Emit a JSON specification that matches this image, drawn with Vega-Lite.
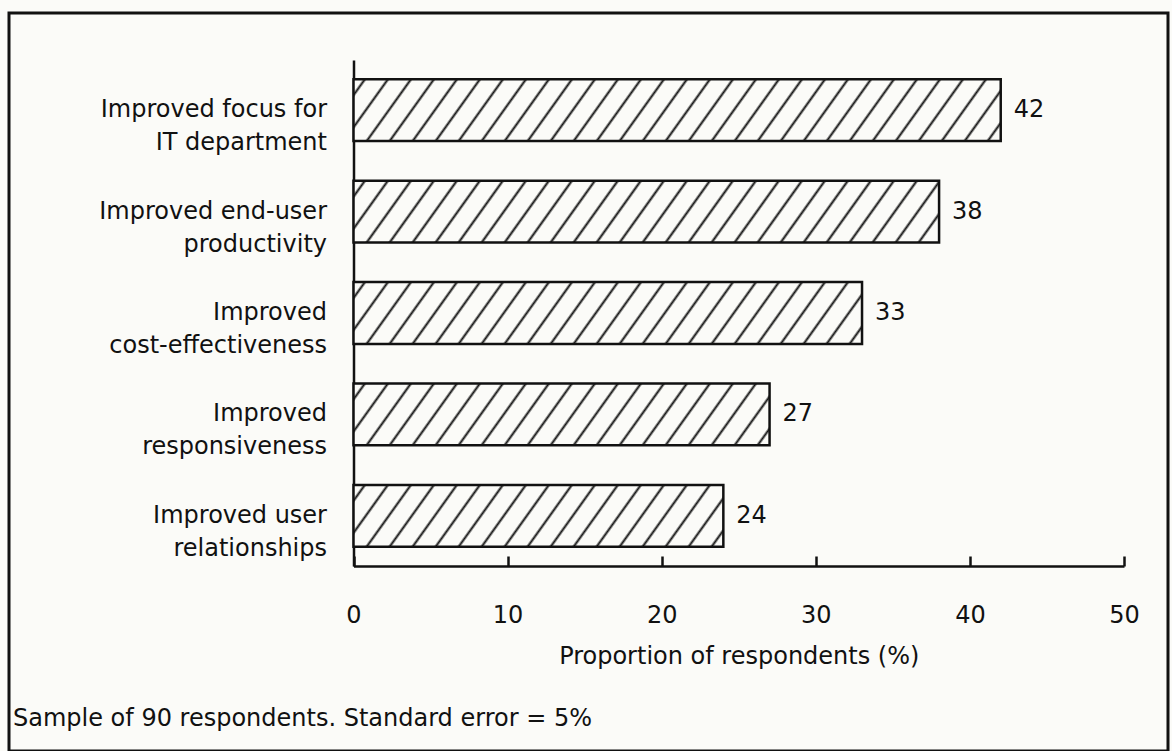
{
  "$schema": "https://vega.github.io/schema/vega-lite/v6.json",
  "autosize": {"type": "none"},
  "width": 1159,
  "height": 738,
  "padding": {"left": 9, "top": 13, "right": 4, "bottom": 0},
  "background": "#fbfbf8",
  "config": {
    "view": {"stroke": "#111", "strokeWidth": 3, "fill": null},
    "font": "DejaVu Sans"
  },
  "title": {
    "text": "Sample of 90 respondents. Standard error = 5%",
    "orient": "bottom",
    "anchor": "start",
    "frame": "group",
    "offset": -25,
    "dx": 4,
    "fontSize": 24,
    "font": "DejaVu Sans",
    "fontWeight": "normal",
    "color": "#111",
    "baseline": "alphabetic"
  },
  "data": {
    "values": [
      {"item": "Improved focus for|IT department", "pct": 42},
      {"item": "Improved end-user|productivity", "pct": 38},
      {"item": "Improved|cost-effectiveness", "pct": 33},
      {"item": "Improved|responsiveness", "pct": 27},
      {"item": "Improved user|relationships", "pct": 24}
    ]
  },
  "encoding": {
    "y": {
      "field": "item",
      "type": "nominal",
      "sort": null,
      "scale": {"range": [47, 553], "paddingInner": 0.39, "paddingOuter": 0.19},
      "axis": {
        "orient": "left",
        "offset": -344.5,
        "title": null,
        "grid": false,
        "ticks": false,
        "domain": true,
        "domainColor": "#111",
        "domainWidth": 2.5,
        "labelPadding": 27,
        "labelFont": "DejaVu Sans",
        "labelFontSize": 24,
        "labelColor": "#111",
        "labelLimit": 500,
        "labelLineHeight": 33,
        "labelExpr": "split(datum.label, '|')"
      }
    },
    "x": {
      "field": "pct",
      "type": "quantitative",
      "scale": {"domain": [0, 50], "range": [344.5, 1115], "nice": false},
      "axis": {
        "orient": "bottom",
        "offset": -185,
        "values": [0, 10, 20, 30, 40, 50],
        "grid": false,
        "domainColor": "#111",
        "domainWidth": 2.5,
        "tickColor": "#111",
        "tickWidth": 2.5,
        "tickSize": -10,
        "labelFont": "DejaVu Sans",
        "labelFontSize": 24,
        "labelColor": "#111",
        "labelBaseline": "alphabetic",
        "labelPadding": 66,
        "labelFlush": false,
        "title": "Proportion of respondents (%)",
        "titleFont": "DejaVu Sans",
        "titleFontSize": 24,
        "titleFontWeight": "normal",
        "titleColor": "#111",
        "titleBaseline": "alphabetic",
        "titleY": 97
      }
    }
  },
  "layer": [
    {
      "mark": {"type": "bar", "stroke": "#111", "strokeWidth": 2.5},
      "encoding": {
        "fill": {
          "condition": [
            {"test": "datum.pct === 42", "value": {"gradient": "linear", "x1": 0, "y1": 0, "x2": 1.0635, "y2": 0.0728, "stops": [
              {"offset": 0.0129, "color": "#fbfbf8"}, {"offset": 0.0165, "color": "#111"}, {"offset": 0.0201, "color": "#fbfbf8"},
              {"offset": 0.0462, "color": "#fbfbf8"}, {"offset": 0.0498, "color": "#111"}, {"offset": 0.0534, "color": "#fbfbf8"},
              {"offset": 0.0795, "color": "#fbfbf8"}, {"offset": 0.0831, "color": "#111"}, {"offset": 0.0867, "color": "#fbfbf8"},
              {"offset": 0.1127, "color": "#fbfbf8"}, {"offset": 0.1163, "color": "#111"}, {"offset": 0.1199, "color": "#fbfbf8"},
              {"offset": 0.1460, "color": "#fbfbf8"}, {"offset": 0.1496, "color": "#111"}, {"offset": 0.1532, "color": "#fbfbf8"},
              {"offset": 0.1792, "color": "#fbfbf8"}, {"offset": 0.1828, "color": "#111"}, {"offset": 0.1864, "color": "#fbfbf8"},
              {"offset": 0.2125, "color": "#fbfbf8"}, {"offset": 0.2161, "color": "#111"}, {"offset": 0.2197, "color": "#fbfbf8"},
              {"offset": 0.2458, "color": "#fbfbf8"}, {"offset": 0.2494, "color": "#111"}, {"offset": 0.2530, "color": "#fbfbf8"},
              {"offset": 0.2790, "color": "#fbfbf8"}, {"offset": 0.2826, "color": "#111"}, {"offset": 0.2862, "color": "#fbfbf8"},
              {"offset": 0.3123, "color": "#fbfbf8"}, {"offset": 0.3159, "color": "#111"}, {"offset": 0.3195, "color": "#fbfbf8"},
              {"offset": 0.3455, "color": "#fbfbf8"}, {"offset": 0.3491, "color": "#111"}, {"offset": 0.3527, "color": "#fbfbf8"},
              {"offset": 0.3788, "color": "#fbfbf8"}, {"offset": 0.3824, "color": "#111"}, {"offset": 0.3860, "color": "#fbfbf8"},
              {"offset": 0.4121, "color": "#fbfbf8"}, {"offset": 0.4157, "color": "#111"}, {"offset": 0.4193, "color": "#fbfbf8"},
              {"offset": 0.4453, "color": "#fbfbf8"}, {"offset": 0.4489, "color": "#111"}, {"offset": 0.4525, "color": "#fbfbf8"},
              {"offset": 0.4786, "color": "#fbfbf8"}, {"offset": 0.4822, "color": "#111"}, {"offset": 0.4858, "color": "#fbfbf8"},
              {"offset": 0.5118, "color": "#fbfbf8"}, {"offset": 0.5154, "color": "#111"}, {"offset": 0.5190, "color": "#fbfbf8"},
              {"offset": 0.5451, "color": "#fbfbf8"}, {"offset": 0.5487, "color": "#111"}, {"offset": 0.5523, "color": "#fbfbf8"},
              {"offset": 0.5784, "color": "#fbfbf8"}, {"offset": 0.5820, "color": "#111"}, {"offset": 0.5856, "color": "#fbfbf8"},
              {"offset": 0.6116, "color": "#fbfbf8"}, {"offset": 0.6152, "color": "#111"}, {"offset": 0.6188, "color": "#fbfbf8"},
              {"offset": 0.6449, "color": "#fbfbf8"}, {"offset": 0.6485, "color": "#111"}, {"offset": 0.6521, "color": "#fbfbf8"},
              {"offset": 0.6782, "color": "#fbfbf8"}, {"offset": 0.6818, "color": "#111"}, {"offset": 0.6854, "color": "#fbfbf8"},
              {"offset": 0.7114, "color": "#fbfbf8"}, {"offset": 0.7150, "color": "#111"}, {"offset": 0.7186, "color": "#fbfbf8"},
              {"offset": 0.7447, "color": "#fbfbf8"}, {"offset": 0.7483, "color": "#111"}, {"offset": 0.7519, "color": "#fbfbf8"},
              {"offset": 0.7779, "color": "#fbfbf8"}, {"offset": 0.7815, "color": "#111"}, {"offset": 0.7851, "color": "#fbfbf8"},
              {"offset": 0.8112, "color": "#fbfbf8"}, {"offset": 0.8148, "color": "#111"}, {"offset": 0.8184, "color": "#fbfbf8"},
              {"offset": 0.8445, "color": "#fbfbf8"}, {"offset": 0.8481, "color": "#111"}, {"offset": 0.8517, "color": "#fbfbf8"},
              {"offset": 0.8777, "color": "#fbfbf8"}, {"offset": 0.8813, "color": "#111"}, {"offset": 0.8849, "color": "#fbfbf8"},
              {"offset": 0.9110, "color": "#fbfbf8"}, {"offset": 0.9146, "color": "#111"}, {"offset": 0.9182, "color": "#fbfbf8"},
              {"offset": 0.9442, "color": "#fbfbf8"}, {"offset": 0.9478, "color": "#111"}, {"offset": 0.9514, "color": "#fbfbf8"},
              {"offset": 0.9775, "color": "#fbfbf8"}, {"offset": 0.9811, "color": "#111"}, {"offset": 0.9847, "color": "#fbfbf8"}
            ]}},
            {"test": "datum.pct === 38", "value": {"gradient": "linear", "x1": 0, "y1": 0, "x2": 1.0695, "y2": 0.0809, "stops": [
              {"offset": 0.0142, "color": "#fbfbf8"}, {"offset": 0.0182, "color": "#111"}, {"offset": 0.0222, "color": "#fbfbf8"},
              {"offset": 0.0507, "color": "#fbfbf8"}, {"offset": 0.0547, "color": "#111"}, {"offset": 0.0587, "color": "#fbfbf8"},
              {"offset": 0.0872, "color": "#fbfbf8"}, {"offset": 0.0912, "color": "#111"}, {"offset": 0.0952, "color": "#fbfbf8"},
              {"offset": 0.1237, "color": "#fbfbf8"}, {"offset": 0.1277, "color": "#111"}, {"offset": 0.1317, "color": "#fbfbf8"},
              {"offset": 0.1602, "color": "#fbfbf8"}, {"offset": 0.1642, "color": "#111"}, {"offset": 0.1682, "color": "#fbfbf8"},
              {"offset": 0.1967, "color": "#fbfbf8"}, {"offset": 0.2007, "color": "#111"}, {"offset": 0.2047, "color": "#fbfbf8"},
              {"offset": 0.2332, "color": "#fbfbf8"}, {"offset": 0.2372, "color": "#111"}, {"offset": 0.2412, "color": "#fbfbf8"},
              {"offset": 0.2698, "color": "#fbfbf8"}, {"offset": 0.2738, "color": "#111"}, {"offset": 0.2778, "color": "#fbfbf8"},
              {"offset": 0.3063, "color": "#fbfbf8"}, {"offset": 0.3103, "color": "#111"}, {"offset": 0.3143, "color": "#fbfbf8"},
              {"offset": 0.3428, "color": "#fbfbf8"}, {"offset": 0.3468, "color": "#111"}, {"offset": 0.3508, "color": "#fbfbf8"},
              {"offset": 0.3793, "color": "#fbfbf8"}, {"offset": 0.3833, "color": "#111"}, {"offset": 0.3873, "color": "#fbfbf8"},
              {"offset": 0.4158, "color": "#fbfbf8"}, {"offset": 0.4198, "color": "#111"}, {"offset": 0.4238, "color": "#fbfbf8"},
              {"offset": 0.4523, "color": "#fbfbf8"}, {"offset": 0.4563, "color": "#111"}, {"offset": 0.4603, "color": "#fbfbf8"},
              {"offset": 0.4889, "color": "#fbfbf8"}, {"offset": 0.4929, "color": "#111"}, {"offset": 0.4969, "color": "#fbfbf8"},
              {"offset": 0.5254, "color": "#fbfbf8"}, {"offset": 0.5294, "color": "#111"}, {"offset": 0.5334, "color": "#fbfbf8"},
              {"offset": 0.5619, "color": "#fbfbf8"}, {"offset": 0.5659, "color": "#111"}, {"offset": 0.5699, "color": "#fbfbf8"},
              {"offset": 0.5984, "color": "#fbfbf8"}, {"offset": 0.6024, "color": "#111"}, {"offset": 0.6064, "color": "#fbfbf8"},
              {"offset": 0.6349, "color": "#fbfbf8"}, {"offset": 0.6389, "color": "#111"}, {"offset": 0.6429, "color": "#fbfbf8"},
              {"offset": 0.6714, "color": "#fbfbf8"}, {"offset": 0.6754, "color": "#111"}, {"offset": 0.6794, "color": "#fbfbf8"},
              {"offset": 0.7080, "color": "#fbfbf8"}, {"offset": 0.7120, "color": "#111"}, {"offset": 0.7160, "color": "#fbfbf8"},
              {"offset": 0.7445, "color": "#fbfbf8"}, {"offset": 0.7485, "color": "#111"}, {"offset": 0.7525, "color": "#fbfbf8"},
              {"offset": 0.7810, "color": "#fbfbf8"}, {"offset": 0.7850, "color": "#111"}, {"offset": 0.7890, "color": "#fbfbf8"},
              {"offset": 0.8175, "color": "#fbfbf8"}, {"offset": 0.8215, "color": "#111"}, {"offset": 0.8255, "color": "#fbfbf8"},
              {"offset": 0.8540, "color": "#fbfbf8"}, {"offset": 0.8580, "color": "#111"}, {"offset": 0.8620, "color": "#fbfbf8"},
              {"offset": 0.8905, "color": "#fbfbf8"}, {"offset": 0.8945, "color": "#111"}, {"offset": 0.8985, "color": "#fbfbf8"},
              {"offset": 0.9271, "color": "#fbfbf8"}, {"offset": 0.9311, "color": "#111"}, {"offset": 0.9351, "color": "#fbfbf8"},
              {"offset": 0.9636, "color": "#fbfbf8"}, {"offset": 0.9676, "color": "#111"}, {"offset": 0.9716, "color": "#fbfbf8"}
            ]}},
            {"test": "datum.pct === 33", "value": {"gradient": "linear", "x1": 0, "y1": 0, "x2": 1.0789, "y2": 0.0940, "stops": [
              {"offset": 0.0162, "color": "#fbfbf8"}, {"offset": 0.0207, "color": "#111"}, {"offset": 0.0252, "color": "#fbfbf8"},
              {"offset": 0.0578, "color": "#fbfbf8"}, {"offset": 0.0623, "color": "#111"}, {"offset": 0.0668, "color": "#fbfbf8"},
              {"offset": 0.0994, "color": "#fbfbf8"}, {"offset": 0.1039, "color": "#111"}, {"offset": 0.1084, "color": "#fbfbf8"},
              {"offset": 0.1410, "color": "#fbfbf8"}, {"offset": 0.1455, "color": "#111"}, {"offset": 0.1500, "color": "#fbfbf8"},
              {"offset": 0.1826, "color": "#fbfbf8"}, {"offset": 0.1871, "color": "#111"}, {"offset": 0.1916, "color": "#fbfbf8"},
              {"offset": 0.2242, "color": "#fbfbf8"}, {"offset": 0.2287, "color": "#111"}, {"offset": 0.2332, "color": "#fbfbf8"},
              {"offset": 0.2658, "color": "#fbfbf8"}, {"offset": 0.2703, "color": "#111"}, {"offset": 0.2748, "color": "#fbfbf8"},
              {"offset": 0.3074, "color": "#fbfbf8"}, {"offset": 0.3119, "color": "#111"}, {"offset": 0.3164, "color": "#fbfbf8"},
              {"offset": 0.3490, "color": "#fbfbf8"}, {"offset": 0.3535, "color": "#111"}, {"offset": 0.3580, "color": "#fbfbf8"},
              {"offset": 0.3906, "color": "#fbfbf8"}, {"offset": 0.3951, "color": "#111"}, {"offset": 0.3996, "color": "#fbfbf8"},
              {"offset": 0.4323, "color": "#fbfbf8"}, {"offset": 0.4368, "color": "#111"}, {"offset": 0.4413, "color": "#fbfbf8"},
              {"offset": 0.4739, "color": "#fbfbf8"}, {"offset": 0.4784, "color": "#111"}, {"offset": 0.4829, "color": "#fbfbf8"},
              {"offset": 0.5155, "color": "#fbfbf8"}, {"offset": 0.5200, "color": "#111"}, {"offset": 0.5245, "color": "#fbfbf8"},
              {"offset": 0.5571, "color": "#fbfbf8"}, {"offset": 0.5616, "color": "#111"}, {"offset": 0.5661, "color": "#fbfbf8"},
              {"offset": 0.5987, "color": "#fbfbf8"}, {"offset": 0.6032, "color": "#111"}, {"offset": 0.6077, "color": "#fbfbf8"},
              {"offset": 0.6403, "color": "#fbfbf8"}, {"offset": 0.6448, "color": "#111"}, {"offset": 0.6493, "color": "#fbfbf8"},
              {"offset": 0.6819, "color": "#fbfbf8"}, {"offset": 0.6864, "color": "#111"}, {"offset": 0.6909, "color": "#fbfbf8"},
              {"offset": 0.7235, "color": "#fbfbf8"}, {"offset": 0.7280, "color": "#111"}, {"offset": 0.7325, "color": "#fbfbf8"},
              {"offset": 0.7651, "color": "#fbfbf8"}, {"offset": 0.7696, "color": "#111"}, {"offset": 0.7741, "color": "#fbfbf8"},
              {"offset": 0.8067, "color": "#fbfbf8"}, {"offset": 0.8112, "color": "#111"}, {"offset": 0.8157, "color": "#fbfbf8"},
              {"offset": 0.8483, "color": "#fbfbf8"}, {"offset": 0.8528, "color": "#111"}, {"offset": 0.8573, "color": "#fbfbf8"},
              {"offset": 0.8899, "color": "#fbfbf8"}, {"offset": 0.8944, "color": "#111"}, {"offset": 0.8989, "color": "#fbfbf8"},
              {"offset": 0.9315, "color": "#fbfbf8"}, {"offset": 0.9360, "color": "#111"}, {"offset": 0.9405, "color": "#fbfbf8"},
              {"offset": 0.9731, "color": "#fbfbf8"}, {"offset": 0.9776, "color": "#111"}, {"offset": 0.9821, "color": "#fbfbf8"}
            ]}},
            {"test": "datum.pct === 27", "value": {"gradient": "linear", "x1": 0, "y1": 0, "x2": 1.0940, "y2": 0.1165, "stops": [
              {"offset": 0.0194, "color": "#fbfbf8"}, {"offset": 0.0248, "color": "#111"}, {"offset": 0.0302, "color": "#fbfbf8"},
              {"offset": 0.0694, "color": "#fbfbf8"}, {"offset": 0.0748, "color": "#111"}, {"offset": 0.0802, "color": "#fbfbf8"},
              {"offset": 0.1193, "color": "#fbfbf8"}, {"offset": 0.1247, "color": "#111"}, {"offset": 0.1301, "color": "#fbfbf8"},
              {"offset": 0.1693, "color": "#fbfbf8"}, {"offset": 0.1747, "color": "#111"}, {"offset": 0.1801, "color": "#fbfbf8"},
              {"offset": 0.2193, "color": "#fbfbf8"}, {"offset": 0.2247, "color": "#111"}, {"offset": 0.2301, "color": "#fbfbf8"},
              {"offset": 0.2692, "color": "#fbfbf8"}, {"offset": 0.2746, "color": "#111"}, {"offset": 0.2800, "color": "#fbfbf8"},
              {"offset": 0.3192, "color": "#fbfbf8"}, {"offset": 0.3246, "color": "#111"}, {"offset": 0.3300, "color": "#fbfbf8"},
              {"offset": 0.3691, "color": "#fbfbf8"}, {"offset": 0.3745, "color": "#111"}, {"offset": 0.3799, "color": "#fbfbf8"},
              {"offset": 0.4191, "color": "#fbfbf8"}, {"offset": 0.4245, "color": "#111"}, {"offset": 0.4299, "color": "#fbfbf8"},
              {"offset": 0.4691, "color": "#fbfbf8"}, {"offset": 0.4745, "color": "#111"}, {"offset": 0.4799, "color": "#fbfbf8"},
              {"offset": 0.5190, "color": "#fbfbf8"}, {"offset": 0.5244, "color": "#111"}, {"offset": 0.5298, "color": "#fbfbf8"},
              {"offset": 0.5690, "color": "#fbfbf8"}, {"offset": 0.5744, "color": "#111"}, {"offset": 0.5798, "color": "#fbfbf8"},
              {"offset": 0.6190, "color": "#fbfbf8"}, {"offset": 0.6244, "color": "#111"}, {"offset": 0.6298, "color": "#fbfbf8"},
              {"offset": 0.6689, "color": "#fbfbf8"}, {"offset": 0.6743, "color": "#111"}, {"offset": 0.6797, "color": "#fbfbf8"},
              {"offset": 0.7189, "color": "#fbfbf8"}, {"offset": 0.7243, "color": "#111"}, {"offset": 0.7297, "color": "#fbfbf8"},
              {"offset": 0.7688, "color": "#fbfbf8"}, {"offset": 0.7742, "color": "#111"}, {"offset": 0.7796, "color": "#fbfbf8"},
              {"offset": 0.8188, "color": "#fbfbf8"}, {"offset": 0.8242, "color": "#111"}, {"offset": 0.8296, "color": "#fbfbf8"},
              {"offset": 0.8688, "color": "#fbfbf8"}, {"offset": 0.8742, "color": "#111"}, {"offset": 0.8796, "color": "#fbfbf8"},
              {"offset": 0.9187, "color": "#fbfbf8"}, {"offset": 0.9241, "color": "#111"}, {"offset": 0.9295, "color": "#fbfbf8"},
              {"offset": 0.9687, "color": "#fbfbf8"}, {"offset": 0.9741, "color": "#111"}, {"offset": 0.9795, "color": "#fbfbf8"}
            ]}},
            {"test": "datum.pct === 24", "value": {"gradient": "linear", "x1": 0, "y1": 0, "x2": 1.1039, "y2": 0.1322, "stops": [
              {"offset": 0.0216, "color": "#fbfbf8"}, {"offset": 0.0276, "color": "#111"}, {"offset": 0.0336, "color": "#fbfbf8"},
              {"offset": 0.0771, "color": "#fbfbf8"}, {"offset": 0.0831, "color": "#111"}, {"offset": 0.0891, "color": "#fbfbf8"},
              {"offset": 0.1327, "color": "#fbfbf8"}, {"offset": 0.1387, "color": "#111"}, {"offset": 0.1447, "color": "#fbfbf8"},
              {"offset": 0.1882, "color": "#fbfbf8"}, {"offset": 0.1942, "color": "#111"}, {"offset": 0.2002, "color": "#fbfbf8"},
              {"offset": 0.2437, "color": "#fbfbf8"}, {"offset": 0.2497, "color": "#111"}, {"offset": 0.2557, "color": "#fbfbf8"},
              {"offset": 0.2993, "color": "#fbfbf8"}, {"offset": 0.3053, "color": "#111"}, {"offset": 0.3113, "color": "#fbfbf8"},
              {"offset": 0.3548, "color": "#fbfbf8"}, {"offset": 0.3608, "color": "#111"}, {"offset": 0.3668, "color": "#fbfbf8"},
              {"offset": 0.4104, "color": "#fbfbf8"}, {"offset": 0.4164, "color": "#111"}, {"offset": 0.4224, "color": "#fbfbf8"},
              {"offset": 0.4659, "color": "#fbfbf8"}, {"offset": 0.4719, "color": "#111"}, {"offset": 0.4779, "color": "#fbfbf8"},
              {"offset": 0.5214, "color": "#fbfbf8"}, {"offset": 0.5274, "color": "#111"}, {"offset": 0.5334, "color": "#fbfbf8"},
              {"offset": 0.5770, "color": "#fbfbf8"}, {"offset": 0.5830, "color": "#111"}, {"offset": 0.5890, "color": "#fbfbf8"},
              {"offset": 0.6325, "color": "#fbfbf8"}, {"offset": 0.6385, "color": "#111"}, {"offset": 0.6445, "color": "#fbfbf8"},
              {"offset": 0.6880, "color": "#fbfbf8"}, {"offset": 0.6940, "color": "#111"}, {"offset": 0.7000, "color": "#fbfbf8"},
              {"offset": 0.7436, "color": "#fbfbf8"}, {"offset": 0.7496, "color": "#111"}, {"offset": 0.7556, "color": "#fbfbf8"},
              {"offset": 0.7991, "color": "#fbfbf8"}, {"offset": 0.8051, "color": "#111"}, {"offset": 0.8111, "color": "#fbfbf8"},
              {"offset": 0.8546, "color": "#fbfbf8"}, {"offset": 0.8606, "color": "#111"}, {"offset": 0.8666, "color": "#fbfbf8"},
              {"offset": 0.9102, "color": "#fbfbf8"}, {"offset": 0.9162, "color": "#111"}, {"offset": 0.9222, "color": "#fbfbf8"},
              {"offset": 0.9657, "color": "#fbfbf8"}, {"offset": 0.9717, "color": "#111"}, {"offset": 0.9777, "color": "#fbfbf8"}
            ]}}
          ],
          "value": "#fbfbf8"
        }
      }
    },
    {
      "mark": {"type": "text", "align": "left", "baseline": "middle", "dx": 13, "fontSize": 24, "font": "DejaVu Sans", "color": "#111"},
      "encoding": {"text": {"field": "pct", "type": "quantitative"}}
    }
  ]
}
